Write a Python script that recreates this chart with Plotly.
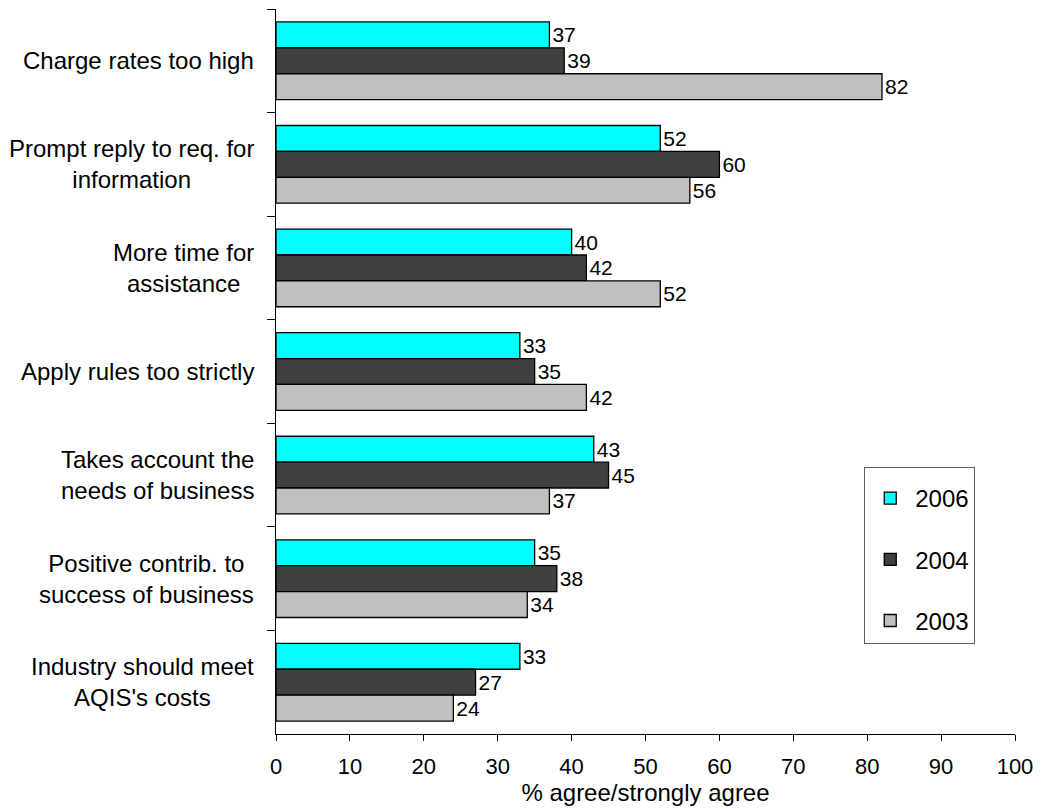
import plotly.graph_objects as go

categories = [
    "Charge rates too high",
    "Prompt reply to req. for<br>information",
    "More time for<br>assistance",
    "Apply rules too strictly",
    "Takes account the<br>needs of business",
    "Positive contrib. to<br>success of business",
    "Industry should meet<br>AQIS's costs",
]
cat_ids = [f"c{i}" for i in range(len(categories))]
series_names = ["2006", "2004", "2003"]
values_2006 = [37, 52, 40, 33, 43, 35, 33]
values_2004 = [39, 60, 42, 35, 45, 38, 27]
values_2003 = [82, 56, 52, 42, 37, 34, 24]
colors = ["#00FFFF", "#404040", "#C0C0C0"]
x_ticks = list(range(0, 101, 10))

FONT = "Liberation Sans, Arial, sans-serif"

fig = go.Figure()
for name, vals, col in zip(series_names, [values_2006, values_2004, values_2003], colors):
    fig.add_trace(go.Bar(
        y=cat_ids, x=vals, name=name, orientation="h",
        marker=dict(color=col, line=dict(color="black", width=1.3)),
        text=[str(v) for v in vals], textposition="outside",
        textfont=dict(family=FONT, size=21, color="black"),
        cliponaxis=False, legendgroup=name,
    ))

# category labels as centered annotations
for cid, lab in zip(cat_ids, categories):
    fig.add_annotation(
        x=-0.027, xref="paper", xanchor="right",
        y=cid, yref="y", yanchor="middle",
        text=lab, showarrow=False, align="center",
        font=dict(family=FONT, size=24, color="black"),
    )

n = len(categories)
fig.update_layout(
    width=1042, height=809,
    margin=dict(l=276, r=22, t=9, b=75),
    paper_bgcolor="white", plot_bgcolor="white",
    barmode="group", bargap=0.25, bargroupgap=0,
    font=dict(family=FONT, size=22, color="black"),
    xaxis=dict(
        range=[0, 100], tickvals=x_ticks, ticks="outside", ticklen=6,
        tickcolor="black", tickwidth=1, showline=True, linecolor="black",
        linewidth=1, showgrid=False, zeroline=False,
        tickfont=dict(family=FONT, size=22), ticklabelstandoff=7,
        title=dict(text="% agree/strongly agree", font=dict(family=FONT, size=24), standoff=4),
    ),
    xaxis2=dict(
        overlaying="x", anchor="y", side="bottom", range=[0, 100],
        tickvals=x_ticks, ticks="inside", ticklen=6, tickcolor="black",
        showticklabels=False, showline=False, showgrid=False, zeroline=False,
    ),
    xaxis3=dict(
        overlaying="x", anchor="y", side="top", range=[0, 100],
        showline=True, linecolor="#808080", linewidth=1.5, ticks="",
        showticklabels=False, showgrid=False, zeroline=False,
    ),
    yaxis=dict(
        type="category", categoryarray=cat_ids, categoryorder="array",
        autorange="reversed", tickson="boundaries", ticks="outside",
        ticklen=8, tickcolor="black", showticklabels=False,
        showline=True, linecolor="black", linewidth=1, showgrid=False,
    ),
    yaxis2=dict(
        overlaying="y", anchor="x", side="left",
        range=[n - 0.5, -0.5],
        tickvals=[i - 0.5 for i in range(n + 1)], ticks="inside", ticklen=8,
        tickcolor="black", showticklabels=False, showline=False,
        showgrid=False, zeroline=False,
    ),
    yaxis3=dict(
        overlaying="y", anchor="x", side="right", range=[n - 0.5, -0.5],
        showline=True, linecolor="#808080", linewidth=1.5, ticks="",
        showticklabels=False, showgrid=False, zeroline=False,
    ),
    legend=dict(
        x=0.796, y=0.368, xanchor="left", yanchor="top",
        bordercolor="#606060", borderwidth=1, bgcolor="white",
        font=dict(family=FONT, size=24), traceorder="grouped",
        title=dict(text=" ", font=dict(size=6)),
        tracegroupgap=27, itemwidth=40, entrywidth=118,
    ),
    showlegend=True,
)

fig.write_html("out.html")
